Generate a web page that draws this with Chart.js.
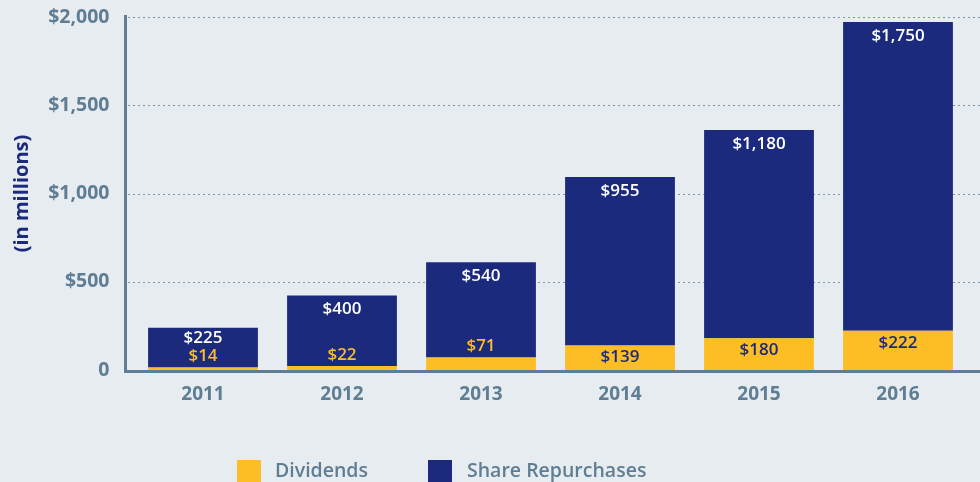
<!DOCTYPE html>
<html>
<head>
<meta charset="utf-8">
<script src="https://cdn.jsdelivr.net/npm/chart.js@4.4.1/dist/chart.umd.min.js"></script>
<style>
  body { margin: 0; background: #e6ecef; overflow: hidden; }
  #wrap { position: relative; width: 980px; height: 482px; }
  #legend { position: absolute; top: 460px; left: 0; width: 980px; height: 30px; font-family: "Open Sans", sans-serif; font-size: 19.5px; font-weight: 600; color: #5f7d93; }
  #legend .item { position: absolute; top: 0; height: 26px; }
  #legend .box { position: absolute; top: 0; left: 0; width: 24px; height: 24px; }
  #legend .txt { position: absolute; top: -2px; white-space: nowrap; line-height: 24px; }
</style>
</head>
<body>
<div id="wrap">
  <canvas id="myChart" width="980" height="482"></canvas>
  <div id="legend"></div>
</div>
<script>
const years = ['2011', '2012', '2013', '2014', '2015', '2016']
const dividends = [14, 22, 71, 139, 180, 222]
const repurchases = [225, 400, 540, 955, 1180, 1750]
const yTicks = [0, 500, 1000, 1500, 2000]
const seriesNames = ['Dividends', 'Share Repurchases']

const YELLOW = '#fdbd24'
const NAVY = '#1b2a7c'
const GRAY = '#5f7d93'

const money = v => v === 0 ? '0' : '$' + v.toLocaleString('en-US')

// gridlines + axis lines that reach past the chart area
const axesPlugin = {
  id: 'axesLines',
  beforeDatasetsDraw: (chart) => {
    const {ctx} = chart
    const y = chart.scales.y
    ctx.save()
    ctx.strokeStyle = '#7f96a8'
    ctx.lineWidth = 1
    ctx.setLineDash([2, 3])
    yTicks.forEach(t => {
      if (t === 0) return
      const py = Math.round(y.getPixelForValue(t)) + 0.5
      ctx.beginPath()
      ctx.moveTo(128, py)
      ctx.lineTo(980, py)
      ctx.stroke()
    })
    ctx.restore()
  },
  afterDatasetsDraw: (chart) => {
    const {ctx} = chart
    const y = chart.scales.y
    const base = y.getPixelForValue(0)
    ctx.save()
    ctx.strokeStyle = GRAY
    ctx.lineWidth = 3
    ctx.beginPath()
    ctx.moveTo(125.5, y.getPixelForValue(2000) - 2)
    ctx.lineTo(125.5, base + 3)
    ctx.moveTo(124, base + 1.5)
    ctx.lineTo(980, base + 1.5)
    ctx.stroke()

    // value labels
    ctx.font = '600 17px "Open Sans"'
    ctx.textAlign = 'center'
    ctx.textBaseline = 'middle'
    const divMeta = chart.getDatasetMeta(0)
    const repMeta = chart.getDatasetMeta(1)
    divMeta.data.forEach((el, i) => {
      const h = el.base - el.y
      let divY
      if (h < 20) {
        divY = el.y - 11
        ctx.fillStyle = YELLOW
      } else {
        divY = el.y + 12
        ctx.fillStyle = NAVY
      }
      ctx.fillText(money(dividends[i]), el.x, divY)
      const rEl = repMeta.data[i]
      let repY = rEl.y + 14
      if (h < 20) repY = Math.min(repY, divY - 18)
      ctx.fillStyle = '#ffffff'
      ctx.fillText(money(repurchases[i]), rEl.x, repY)
    })
    ctx.restore()
  }
}

new Chart('myChart', {
  type: 'bar',
  data: {
    labels: years,
    datasets: [
      {label: seriesNames[0], data: dividends, backgroundColor: YELLOW, barPercentage: 0.79, categoryPercentage: 1},
      {label: seriesNames[1], data: repurchases, backgroundColor: NAVY, barPercentage: 0.79, categoryPercentage: 1}
    ]
  },
  options: {
    responsive: false,
    animation: false,
    layout: {padding: {top: 0, right: 12.5, left: 0, bottom: 0}},
    scales: {
      x: {
        stacked: true,
        grid: {display: false, drawTicks: false},
        border: {display: false},
        ticks: {color: GRAY, font: {family: 'Open Sans', size: 19, weight: 'bold'}, padding: 13},
        afterFit: s => { s.height = 112 }
      },
      y: {
        stacked: true,
        min: 0,
        max: 2000,
        afterBuildTicks: s => { s.ticks = yTicks.map(v => ({value: v})) },
        grid: {display: false, drawTicks: false},
        border: {display: false},
        ticks: {color: GRAY, font: {family: 'Open Sans', size: 19.5, weight: 'bold'}, padding: 24, callback: v => money(v)},
        title: {display: true, text: '(in millions)', color: NAVY, font: {family: 'Open Sans', size: 20, weight: 'bold'}, padding: {top: 10, bottom: 0}},
        afterFit: s => { s.width = 133.5; s.paddingTop = 17; s.paddingBottom = 0 }
      }
    },
    plugins: {
      legend: {display: false},
      tooltip: {enabled: false}
    }
  },
  plugins: [axesPlugin]
})

// legend
const legendColors = [YELLOW, NAVY]
const legendPos = [[237, 275], [428, 467]]
const legendEl = document.getElementById('legend')
seriesNames.forEach((name, i) => {
  const item = document.createElement('div')
  item.className = 'item'
  item.style.left = legendPos[i][0] + 'px'
  item.innerHTML = '<span class="box" style="background:' + legendColors[i] + '"></span>' +
    '<span class="txt" style="left:' + (legendPos[i][1] - legendPos[i][0]) + 'px">' + name + '</span>'
  legendEl.appendChild(item)
})
</script>
</body>
</html>
